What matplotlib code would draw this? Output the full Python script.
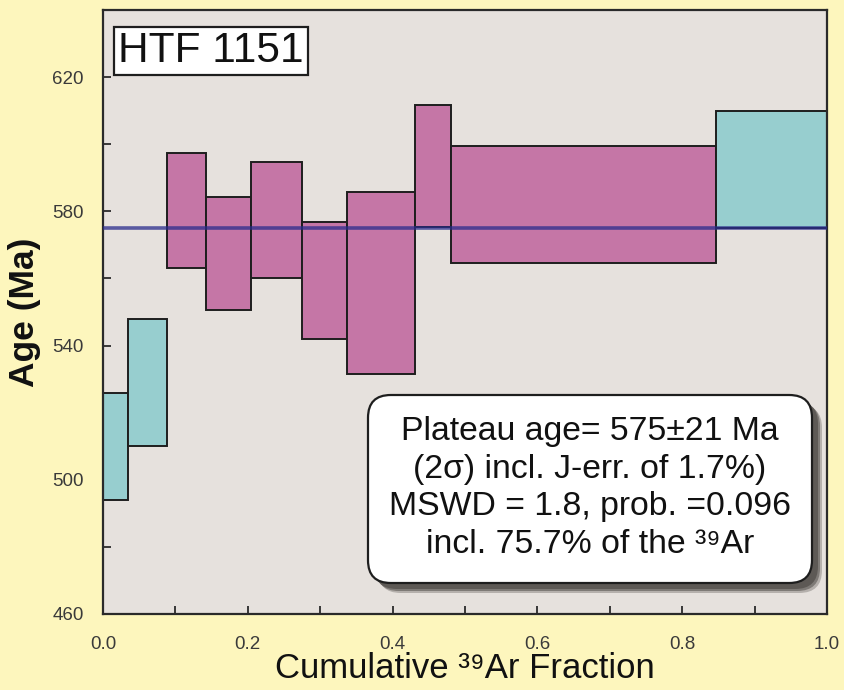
import matplotlib
matplotlib.use("Agg")
import matplotlib.pyplot as plt
from matplotlib.patches import Rectangle, FancyBboxPatch
from matplotlib.ticker import MultipleLocator
import numpy as np

plt.rcParams['font.family'] = ['Liberation Sans', 'DejaVu Sans']

# step heating results: cumulative 39Ar edges, apparent age and 2s error (Ma)
cum_frac = [0.0, 0.035, 0.0886, 0.142, 0.2044, 0.2749, 0.337, 0.4306, 0.4812, 0.8463, 1.0]
age = [510.0, 529.0, 580.25, 567.4, 577.5, 559.4, 558.75, 593.55, 582.1, 592.35]
age_err = [16.0, 19.0, 17.05, 16.9, 17.3, 17.4, 27.15, 18.25, 17.4, 17.45]
in_plateau = [False, False, True, True, True, True, True, True, True, False]

plateau_age = 575
sample = "HTF 1151"

fig_bg = '#fdf6bd'
ax_bg = '#e6e1dd'
c_plateau = '#c576a6'
c_other = '#97cecf'

fig = plt.figure(figsize=(8.44, 6.9), dpi=100, facecolor=fig_bg)
ax = fig.add_axes([103/844, 76/690, 724/844, 604/690])
ax.set_facecolor(ax_bg)

for i in range(len(age)):
    x0 = cum_frac[i]
    w = cum_frac[i + 1] - cum_frac[i]
    lo = age[i] - age_err[i]
    col = c_plateau if in_plateau[i] else c_other
    ax.add_patch(Rectangle((x0, lo), w, 2 * age_err[i], facecolor=col,
                           edgecolor='#1e1e1e', linewidth=1.4, zorder=2))

ax.axhline(plateau_age, color='#2a2c8c', linewidth=2.6, alpha=0.75, zorder=3)

ax.set_xlim(0, 1)
ax.set_ylim(460, 640)
ax.xaxis.set_major_locator(MultipleLocator(0.2))
ax.xaxis.set_minor_locator(MultipleLocator(0.1))
ax.yaxis.set_minor_locator(MultipleLocator(20))
ax.set_yticks([460, 500, 540, 580, 620])
ax.tick_params(which='both', direction='in', length=6, width=1.3, color='#2a2a2a',
               top=False, right=False)
ax.tick_params(axis='x', which='major', labelsize=13.5, labelcolor='#3a3a3a', pad=16)
ax.tick_params(axis='y', which='major', labelsize=13.5, labelcolor='#3a3a3a', pad=14)
for s in ax.spines.values():
    s.set_linewidth(1.6)
    s.set_color('#2a2a2a')

ax.set_xlabel('Cumulative \u00b3\u2079Ar Fraction', fontsize=25, color='#111111', labelpad=-1)
ax.set_ylabel('Age (Ma)', fontsize=25.5, fontweight='bold', color='#111111', labelpad=8)

ax.text(0.149, 0.932, sample, transform=ax.transAxes, fontsize=30.5, ha='center', va='center',
        color='#111111', zorder=6,
        bbox=dict(boxstyle='square,pad=0.1', facecolor='white', edgecolor='#1e1e1e', linewidth=1.6))

# rounded result box with a drop shadow
bx, by, bw, bh = 368/844, 1 - 583/690, 444/844, 188/690
asp = 844/690
r = 0.027
for off, a in [(10, 0.35), (8, 0.6), (6, 0.9)]:
    sh = FancyBboxPatch((bx + off/844, by - off/690), bw, bh,
                        boxstyle=f'round,pad=0,rounding_size={r}', mutation_aspect=asp,
                        transform=fig.transFigure, facecolor='#5a5652', edgecolor='none',
                        alpha=a, zorder=7)
    fig.add_artist(sh)
box = FancyBboxPatch((bx, by), bw, bh, boxstyle=f'round,pad=0,rounding_size={r}',
                     mutation_aspect=asp, transform=fig.transFigure, facecolor='white',
                     edgecolor='#1e1e1e', linewidth=1.6, zorder=8)
fig.add_artist(box)

result_lines = [
    f'Plateau age= {plateau_age}\u00b121 Ma',
    '(2\u03c3) incl. J-err. of 1.7%)',
    'MSWD = 1.8, prob. =0.096',
    'incl. 75.7% of the \u00b3\u2079Ar',
]
fig.text(bx + bw/2, by + bh/2 + 1/690, '\n'.join(result_lines), fontsize=24.3, ha='center',
         va='center', linespacing=1.28, color='#111111', zorder=9)

fig.savefig('out.png', dpi=100, facecolor=fig_bg)
